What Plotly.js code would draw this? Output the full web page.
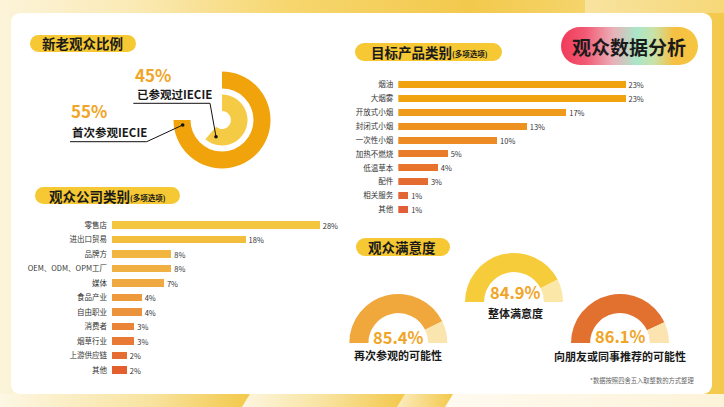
<!DOCTYPE html>
<html><head><meta charset="utf-8">
<script src="https://cdn.plot.ly/plotly-3.0.1.min.js"></script>
<style>
html,body{margin:0;padding:0;}
body{width:724px;height:407px;overflow:hidden;position:relative;
 background:linear-gradient(90deg,#fcf4da 0%,#faeab6 18%,#f6d66e 40%,#f3c94c 65%,#f5d56e 82%,#f3c94a 100%);}
.bg{position:absolute;}
#top2{left:585px;top:0;width:139px;height:13px;background:linear-gradient(90deg,#f8e3a0,#f6d878);}
#bot1{left:0;top:394px;width:250px;height:13px;background:linear-gradient(90deg,#fdf7e4,#f8e3a0 60%,#f3c94a);clip-path:polygon(0 0,100% 0,calc(100% - 8px) 100%,0 100%);}
#bot2{left:242px;top:394px;width:163px;height:13px;background:linear-gradient(90deg,#fdf6e0,#f8e3a0 50%,#f3c84a);clip-path:polygon(8px 0,100% 0,calc(100% - 8px) 100%,0 100%);}
#bot3{left:397px;top:394px;width:56px;height:13px;background:linear-gradient(90deg,#fbecc0,#f3c84a);clip-path:polygon(8px 0,100% 0,calc(100% - 8px) 100%,0 100%);}
#bot4{left:445px;top:394px;width:279px;height:13px;background:linear-gradient(90deg,#fffaf0,#fdf3d8);clip-path:polygon(8px 0,100% 0,100% 100%,0 100%);}
#card{left:11px;top:13px;width:701px;height:381px;background:#fff;border-radius:9px;}
.pill{position:absolute;background:#f6c833;border-radius:10px;}
#hero{left:561px;top:27px;width:137px;height:38px;border-radius:19px;
 background:linear-gradient(90deg,#f03a5a 0%,#f25a74 18%,#eab0b8 38%,#a9e6c9 55%,#c9e2a8 68%,#f5c043 82%,#f6c63f 100%);}
#chart{position:absolute;left:0;top:0;width:724px;height:407px;}
</style></head>
<body>
<div class="bg" id="top2"></div>
<div class="bg" id="bot1"></div><div class="bg" id="bot2"></div><div class="bg" id="bot3"></div><div class="bg" id="bot4"></div>
<div class="bg" id="card"></div>
<div class="pill" style="left:30px;top:35px;width:106px;height:17px;"></div>
<div class="pill" style="left:355px;top:43px;width:147px;height:18px;"></div>
<div class="pill" style="left:35px;top:187px;width:145px;height:17px;"></div>
<div class="pill" style="left:356px;top:238px;width:94px;height:18px;"></div>
<div class="bg" id="hero"></div>
<div id="chart"></div>
<script>
// ---- data ----
const companyCats = ['零售店','进出口贸易','品牌方','OEM、ODM、OPM工厂','媒体','食品产业','自由职业','消费者','烟草行业','上游供应链','其他'];
const companyPct = [28,18,8,8,7,4,4,3,3,2,2];
const productCats = ['烟油','大烟雾','开放式小烟','封闭式小烟','一次性小烟','加热不燃烧','低温草本','配件','相关服务','其他'];
const productPct = [23,23,17,13,10,5,4,3,1,1];
const visitorLabels = ['首次参观IECIE','已参观过IECIE'];
const visitorPct = [55,45];
const satLabels = ['再次参观的可能性','整体满意度','向朋友或同事推荐的可能性'];
const satPct = [85.4,84.9,86.1];

// ---- styles ----
const companyColors = ['#f4c63e','#f3be3e','#f2b640','#f1b042','#f0a842','#ee9a3c','#ec923a','#ea8438','#e87a36','#e56c32','#e3602e'];
const productColors = ['#f0a30f','#f0a30f','#ef9a1a','#ee921f','#ec8a23','#e97c2a','#e8742c','#e56c30','#e36434','#e25e36'];
const gaugeFill = ['#f0a83c','#f6cc3a','#e27130'];
const gaugeRest = ['#fbe5ae','#fbe7a8','#fbe4b0'];
const W = 724, H = 407;
const px = x => x / W, py = y => 1 - y / H;
const FONT = '"Noto Sans CJK SC", "Noto Sans", sans-serif';
const GOLD = '#f1a526';
const DARK = '#1a1a1a';

const traces = [];
// company bars
traces.push({type:'bar', orientation:'h', x:companyPct, y:companyCats, xaxis:'x', yaxis:'y',
  marker:{color:companyColors}, width:0.5, text:companyPct.map(v=>v+'%'), textposition:'outside',
  textfont:{size:7.5,color:'#333',family:FONT}, constraintext:'none', cliponaxis:false, hoverinfo:'skip'});
// product bars
traces.push({type:'bar', orientation:'h', x:productPct, y:productCats, xaxis:'x2', yaxis:'y2',
  marker:{color:productColors}, width:0.5, text:productPct.map(v=>v+'%'), textposition:'outside',
  textfont:{size:7.5,color:'#333',family:FONT}, constraintext:'none', cliponaxis:false, hoverinfo:'skip'});

// donut: largest share spans 270 degrees
const donutSweep = 0.75;
const donutTotal = Math.max(...visitorPct) / donutSweep;
function dom(cx, cy, r){ return {x:[px(cx-r), px(cx+r)], y:[py(cy+r), py(cy-r)]}; }
traces.push({type:'pie', values:[visitorPct[0], donutTotal-visitorPct[0]], labels:['a','b'], sort:false,
  direction:'clockwise', rotation:0, hole:0.65, domain:dom(222,120,48.5),
  marker:{colors:['#f0a30a','rgba(0,0,0,0)'], line:{width:0}}, textinfo:'none', hoverinfo:'skip', showlegend:false});
traces.push({type:'pie', values:[visitorPct[1], donutTotal-visitorPct[1]], labels:['c','d'], sort:false,
  direction:'clockwise', rotation:0, hole:0.35, domain:dom(222,120,25.5),
  marker:{colors:['#f5cb45','rgba(0,0,0,0)'], line:{width:0}}, textinfo:'none', hoverinfo:'skip', showlegend:false});

// gauges
const gaugePos = [[398.3,343],[514,302],[620,343]];
satPct.forEach((v,i)=>{
  traces.push({type:'pie', values:[v, 100-v, 100], labels:['f','r','h'], sort:false, direction:'clockwise',
    rotation:-90, hole:0.61, domain:dom(gaugePos[i][0], gaugePos[i][1], 49),
    marker:{colors:[gaugeFill[i], gaugeRest[i], 'rgba(0,0,0,0)'], line:{width:0}},
    textinfo:'none', hoverinfo:'skip', showlegend:false});
});

// annotations
const ann = [];
function A(text, x, y, size, opts){
  ann.push(Object.assign({text:text, x:px(x), y:py(y), xref:'paper', yref:'paper', showarrow:false,
    xanchor:'center', yanchor:'middle', font:{family:FONT, size:size, color:DARK}}, opts||{}));
}
A('<b>新老观众比例</b>', 82, 43.5, 13.5);
A('<b>目标产品类别</b>', 369, 52, 13.5, {xanchor:'left'});
A('<b>(多项选项)</b>', 450, 54, 7.5, {xanchor:'left'});
A('<b>观众公司类别</b>', 47, 195.5, 13.5, {xanchor:'left'});
A('<b>(多项选项)</b>', 128, 197.5, 7.5, {xanchor:'left'});
A('<b>观众满意度</b>', 402, 247, 13.5);
A('<b>观众数据分析</b>', 629, 46, 19);

A('<b>'+visitorPct[1]+'%</b>', 133, 74, 17, {xanchor:'left', font:{family:FONT,size:17,color:GOLD}});
A('<b>'+visitorLabels[1]+'</b>', 134.5, 93.5, 11.5, {xanchor:'left'});
A('<b>'+visitorPct[0]+'%</b>', 68.5, 110.5, 17, {xanchor:'left', font:{family:FONT,size:17,color:GOLD}});
A('<b>'+visitorLabels[0]+'</b>', 70, 131.5, 11.5, {xanchor:'left'});

const gaugeTextY = [[336.5,355],[291.7,312.7],[335.5,355.5]];
const gaugeTextX = [398,515,620];
satPct.forEach((v,i)=>{
  A('<b>'+v.toFixed(1)+'%</b>', gaugeTextX[i], gaugeTextY[i][0], 16.5, {font:{family:FONT,size:16.5,color:GOLD}});
  A('<b>'+satLabels[i]+'</b>', gaugeTextX[i], gaugeTextY[i][1], 11);
});
A('*数据按照四舍五入取整数的方式整理', 696, 380, 6.3, {xanchor:'right', font:{family:FONT,size:6.3,color:'#666'}});

// leader lines
const shapes = [];
function L(x0,y0,x1,y1){ shapes.push({type:'line', xref:'paper', yref:'paper', x0:px(x0), y0:py(y0), x1:px(x1), y1:py(y1), line:{color:'#111', width:1}}); }
function D(x,y){ shapes.push({type:'circle', xref:'paper', yref:'paper', x0:px(x-1.8), x1:px(x+1.8), y0:py(y+1.8), y1:py(y-1.8), fillcolor:'#111', line:{width:0}}); }
L(70,141.7,146.7,141.7); L(146.7,141.7,182.7,125); D(182.7,125);
L(133.3,103.3,210,103.3); L(210,103.3,216,136.7); D(216,136.7);

const leftY = [225,370], rightY = [84.3,209.7];
function ydom(a,b,n){ const s=(b-a)/(n-1); return [py(b+s/2), py(a-s/2)]; }

const axBase = {showgrid:false, zeroline:false, showline:false, fixedrange:true};
const layout = {
  width:W, height:H, margin:{l:0,r:0,t:0,b:0}, paper_bgcolor:'rgba(0,0,0,0)', plot_bgcolor:'rgba(0,0,0,0)',
  showlegend:false, bargap:0, font:{family:FONT},
  xaxis:Object.assign({domain:[px(112), px(112+7.42*30)], range:[0,30], visible:false}, axBase),
  yaxis:Object.assign({domain:ydom(leftY[0],leftY[1],companyCats.length), type:'category',
     range:[companyCats.length-0.5,-0.5], ticks:'', ticklabelstandoff:4, tickfont:{size:7.5,color:'#333',family:FONT}}, axBase),
  xaxis2:Object.assign({domain:[px(398.3), px(398.3+9.88*25)], range:[0,25], visible:false, anchor:'y2'}, axBase),
  yaxis2:Object.assign({domain:ydom(rightY[0],rightY[1],productCats.length), type:'category', anchor:'x2',
     range:[productCats.length-0.5,-0.5], ticks:'', ticklabelstandoff:4, tickfont:{size:7.5,color:'#333',family:FONT}}, axBase),
  annotations:ann, shapes:shapes
};
Plotly.newPlot('chart', traces, layout, {displayModeBar:false, staticPlot:true});
</script>
</body></html>
